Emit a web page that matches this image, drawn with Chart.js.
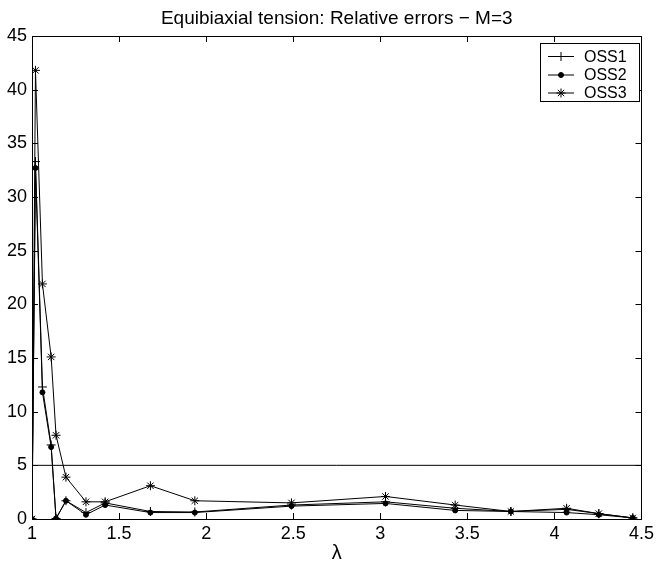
<!DOCTYPE html>
<html>
<head>
<meta charset="UTF-8">
<title>Equibiaxial tension: Relative errors - M=3</title>
<script src="https://cdn.jsdelivr.net/npm/chart.js@4"></script>
<style>
  body { margin: 0; background: #fff; }
</style>
</head>
<body>
<canvas id="chart" width="658" height="565"></canvas>
<script>
  // stretch values (x axis) shared by the three series
  const lambda = [1.0, 1.02, 1.06, 1.11, 1.138, 1.195, 1.31, 1.42, 1.68, 1.935, 2.49, 3.03, 3.43, 3.75, 4.07, 4.255, 4.45];
  const oss1 = [0, 33.3, 12.3, 6.9, 0.05, 1.7, 0.6, 1.5, 0.7, 0.65, 1.3, 1.6, 1.0, 0.7, 0.9, 0.5, 0.1];
  const oss2 = [0, 32.7, 11.8, 6.7, 0.05, 1.7, 0.4, 1.3, 0.6, 0.6, 1.2, 1.45, 0.8, 0.7, 0.6, 0.4, 0.1];
  const oss3 = [0, 41.8, 21.9, 15.1, 7.8, 3.9, 1.6, 1.6, 3.1, 1.7, 1.5, 2.1, 1.3, 0.7, 1.0, 0.5, 0.1];
  const limitX = [1, 4.5];
  const limitY = [5, 5];

  const seriesNames = ['OSS1', 'OSS2', 'OSS3'];
  const xTicks = [1, 1.5, 2, 2.5, 3, 3.5, 4, 4.5];
  const yTicks = [0, 5, 10, 15, 20, 25, 30, 35, 40, 45];
  const titleText = 'Equibiaxial tension: Relative errors \u2212 M=3';

  const FONT = '"Liberation Sans", Arial, sans-serif';

  const pts = (xs, ys) => xs.map((x, i) => ({x: x, y: ys[i]}));

  const line = (label, data, style, radius) => ({
    label: label,
    data: data,
    borderColor: '#000',
    backgroundColor: '#000',
    borderWidth: 1,
    pointStyle: style,
    pointRadius: radius,
    pointBorderWidth: 1,
    pointBorderColor: '#000',
    pointBackgroundColor: '#000',
    tension: 0
  });

  // title over the axes, inward ticks on all four sides, the box, and the legend inside the axes
  const frame = {
    id: 'frame',
    afterDraw(chart) {
      const {ctx, chartArea: a, scales: {x, y}} = chart;
      ctx.save();

      ctx.fillStyle = '#000';
      ctx.font = '19px ' + FONT;
      ctx.textAlign = 'center';
      ctx.textBaseline = 'alphabetic';
      ctx.fillText(titleText, (a.left + a.right) / 2, 24);
      ctx.textAlign = 'left';

      ctx.strokeStyle = '#000';
      ctx.lineWidth = 1;
      ctx.beginPath();
      xTicks.forEach(v => {
        const px = Math.round(x.getPixelForValue(v)) + 0.5;
        ctx.moveTo(px, a.bottom); ctx.lineTo(px, a.bottom - 6);
        ctx.moveTo(px, a.top); ctx.lineTo(px, a.top + 6);
      });
      yTicks.forEach(v => {
        const py = Math.round(y.getPixelForValue(v)) + 0.5;
        ctx.moveTo(a.left, py); ctx.lineTo(a.left + 6, py);
        ctx.moveTo(a.right, py); ctx.lineTo(a.right - 6, py);
      });
      ctx.stroke();
      ctx.strokeRect(Math.round(a.left) + 0.5, Math.round(a.top) + 0.5,
                     Math.round(a.right - a.left), Math.round(a.bottom - a.top));

      // legend box
      const bx = 540.5, by = 43.5, bw = 99, bh = 58;
      ctx.fillStyle = '#fff';
      ctx.fillRect(bx, by, bw, bh);
      ctx.strokeRect(bx, by, bw, bh);
      ctx.font = '16px ' + FONT;
      ctx.textBaseline = 'middle';
      const rows = [56.5, 75, 93];
      seriesNames.forEach((name, i) => {
        const ds = chart.data.datasets[i];
        const ry = rows[i];
        ctx.strokeStyle = '#000';
        ctx.fillStyle = '#000';
        ctx.beginPath();
        ctx.moveTo(548, ry); ctx.lineTo(574, ry);
        ctx.stroke();
        Chart.helpers.drawPoint(ctx, {pointStyle: ds.pointStyle, radius: ds.pointRadius, rotation: 0, borderWidth: 1}, 561, ry);
        ctx.fillStyle = '#000';
        ctx.fillText(name, 584, ry + 1);
      });
      ctx.restore();
    }
  };

  new Chart(document.getElementById('chart'), {
    type: 'line',
    data: {
      datasets: [
        line(seriesNames[0], pts(lambda, oss1), 'cross', 4.5),
        line(seriesNames[1], pts(lambda, oss2), 'circle', 2.5),
        line(seriesNames[2], pts(lambda, oss3), 'star', 4.5),
        Object.assign(line('limit', pts(limitX, limitY), 'circle', 0), {pointRadius: 0})
      ]
    },
    options: {
      responsive: false,
      animation: false,
      layout: {padding: {left: 0, right: 12, top: 36, bottom: 0}},
      plugins: {
        legend: {display: false},
        tooltip: {enabled: false},
        title: {display: false}
      },
      scales: {
        x: {
          type: 'linear',
          min: 1,
          max: 4.5,
          afterBuildTicks: s => { s.ticks = xTicks.map(v => ({value: v})); },
          afterFit: s => { s.height = 46; },
          grid: {display: false, drawTicks: false},
          border: {display: false},
          ticks: {
            color: '#000',
            padding: 4,
            font: {family: FONT, size: 18},
            maxRotation: 0,
            callback: v => String(v)
          },
          title: {
            display: true,
            text: '\u03bb',
            color: '#000',
            font: {family: FONT, size: 20},
            padding: {top: 0, bottom: 0}
          }
        },
        y: {
          min: 0,
          max: 45,
          afterBuildTicks: s => { s.ticks = yTicks.map(v => ({value: v})); },
          afterFit: s => { s.width = 32; },
          grid: {display: false, drawTicks: false},
          border: {display: false},
          ticks: {
            color: '#000',
            padding: 5,
            font: {family: FONT, size: 18}
          }
        }
      }
    },
    plugins: [frame]
  });
</script>
</body>
</html>
